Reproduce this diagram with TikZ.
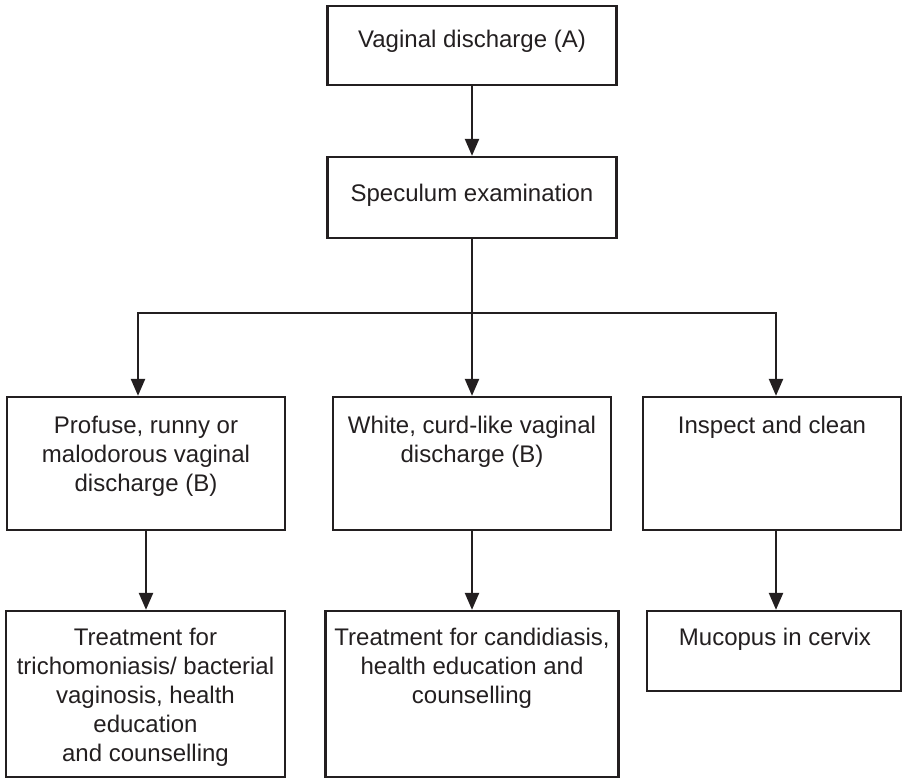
\documentclass[tikz,border=0pt]{standalone}
\usepackage{fontspec}
\setmainfont{Liberation Sans}
\usetikzlibrary{arrows.meta}
\definecolor{ink}{HTML}{231F20}
\tikzset{
  box/.style={draw=ink, line width=2.3pt, fill=none, inner sep=0pt, rectangle},
  txt/.style={text=ink, inner sep=0pt, anchor=north, align=center, font=\fontsize{24}{29}\selectfont},
  conn/.style={draw=ink, line width=2.3pt},
  arr/.style={conn, -{Triangle[length=17pt,width=14pt]}}
}
\begin{document}
\begin{tikzpicture}[x=1pt,y=-1pt]
\useasboundingbox (0,0) rectangle (903,779);
% boxes
\node[box, minimum width=289pt, minimum height=79pt] (A) at (472,45.5) {};
\node[box, minimum width=289pt, minimum height=81pt] (S) at (472,197.5) {};
\node[box, minimum width=278pt, minimum height=133pt] (B1) at (146,463.5) {};
\node[box, minimum width=278pt, minimum height=133pt] (B2) at (472,463.5) {};
\node[box, minimum width=258pt, minimum height=133pt] (B3) at (772,463.5) {};
\node[box, minimum width=279pt, minimum height=166pt] (C1) at (145.5,694) {};
\node[box, minimum width=293pt, minimum height=166pt] (C2) at (472,694) {};
\node[box, minimum width=254pt, minimum height=80pt] (C3) at (774,651) {};
% texts
\node[txt] (tA) at (472,29.5) {Vaginal discharge (A)};
\node[txt] (tS) at (472,183.5) {Speculum examination};
\node[txt] (tB1) at (146,415.5) {Profuse, runny or\\malodorous vaginal\\discharge (B)};
\node[txt] (tB2) at (472,415.5) {White, curd-like vaginal\\discharge (B)};
\node[txt] (tB3) at (772,415.5) {Inspect and clean};
\node[txt] (tC1) at (145.5,627.5) {Treatment for\\trichomoniasis/ bacterial\\vaginosis, health\\education\\and counselling};
\node[txt] (tC2) at (472,627.5) {Treatment for candidiasis,\\health education and\\counselling};
\node[txt] (tC3) at (775,627.5) {Mucopus in cervix};
% junctions
\coordinate (jl) at (138,313);
\coordinate (jm) at (472,313);
\coordinate (jr) at (776,313);
% connectors
\draw[arr] (A) -- (S);
\draw[conn] (S.south) -- (jm);
\draw[conn, line cap=rect] (jl) -- (jr);
\draw[arr] (jl) -- (jl |- B1.north);
\draw[arr] (jm) -- (jm |- B2.north);
\draw[arr] (jr) -- (jr |- B3.north);
\draw[arr] (B1.south) -- (B1.south |- C1.north);
\draw[arr] (B2.south) -- (B2.south |- C2.north);
\draw[arr] (B3.south -| jr) -- (jr |- C3.north);
\end{tikzpicture}
\end{document}
